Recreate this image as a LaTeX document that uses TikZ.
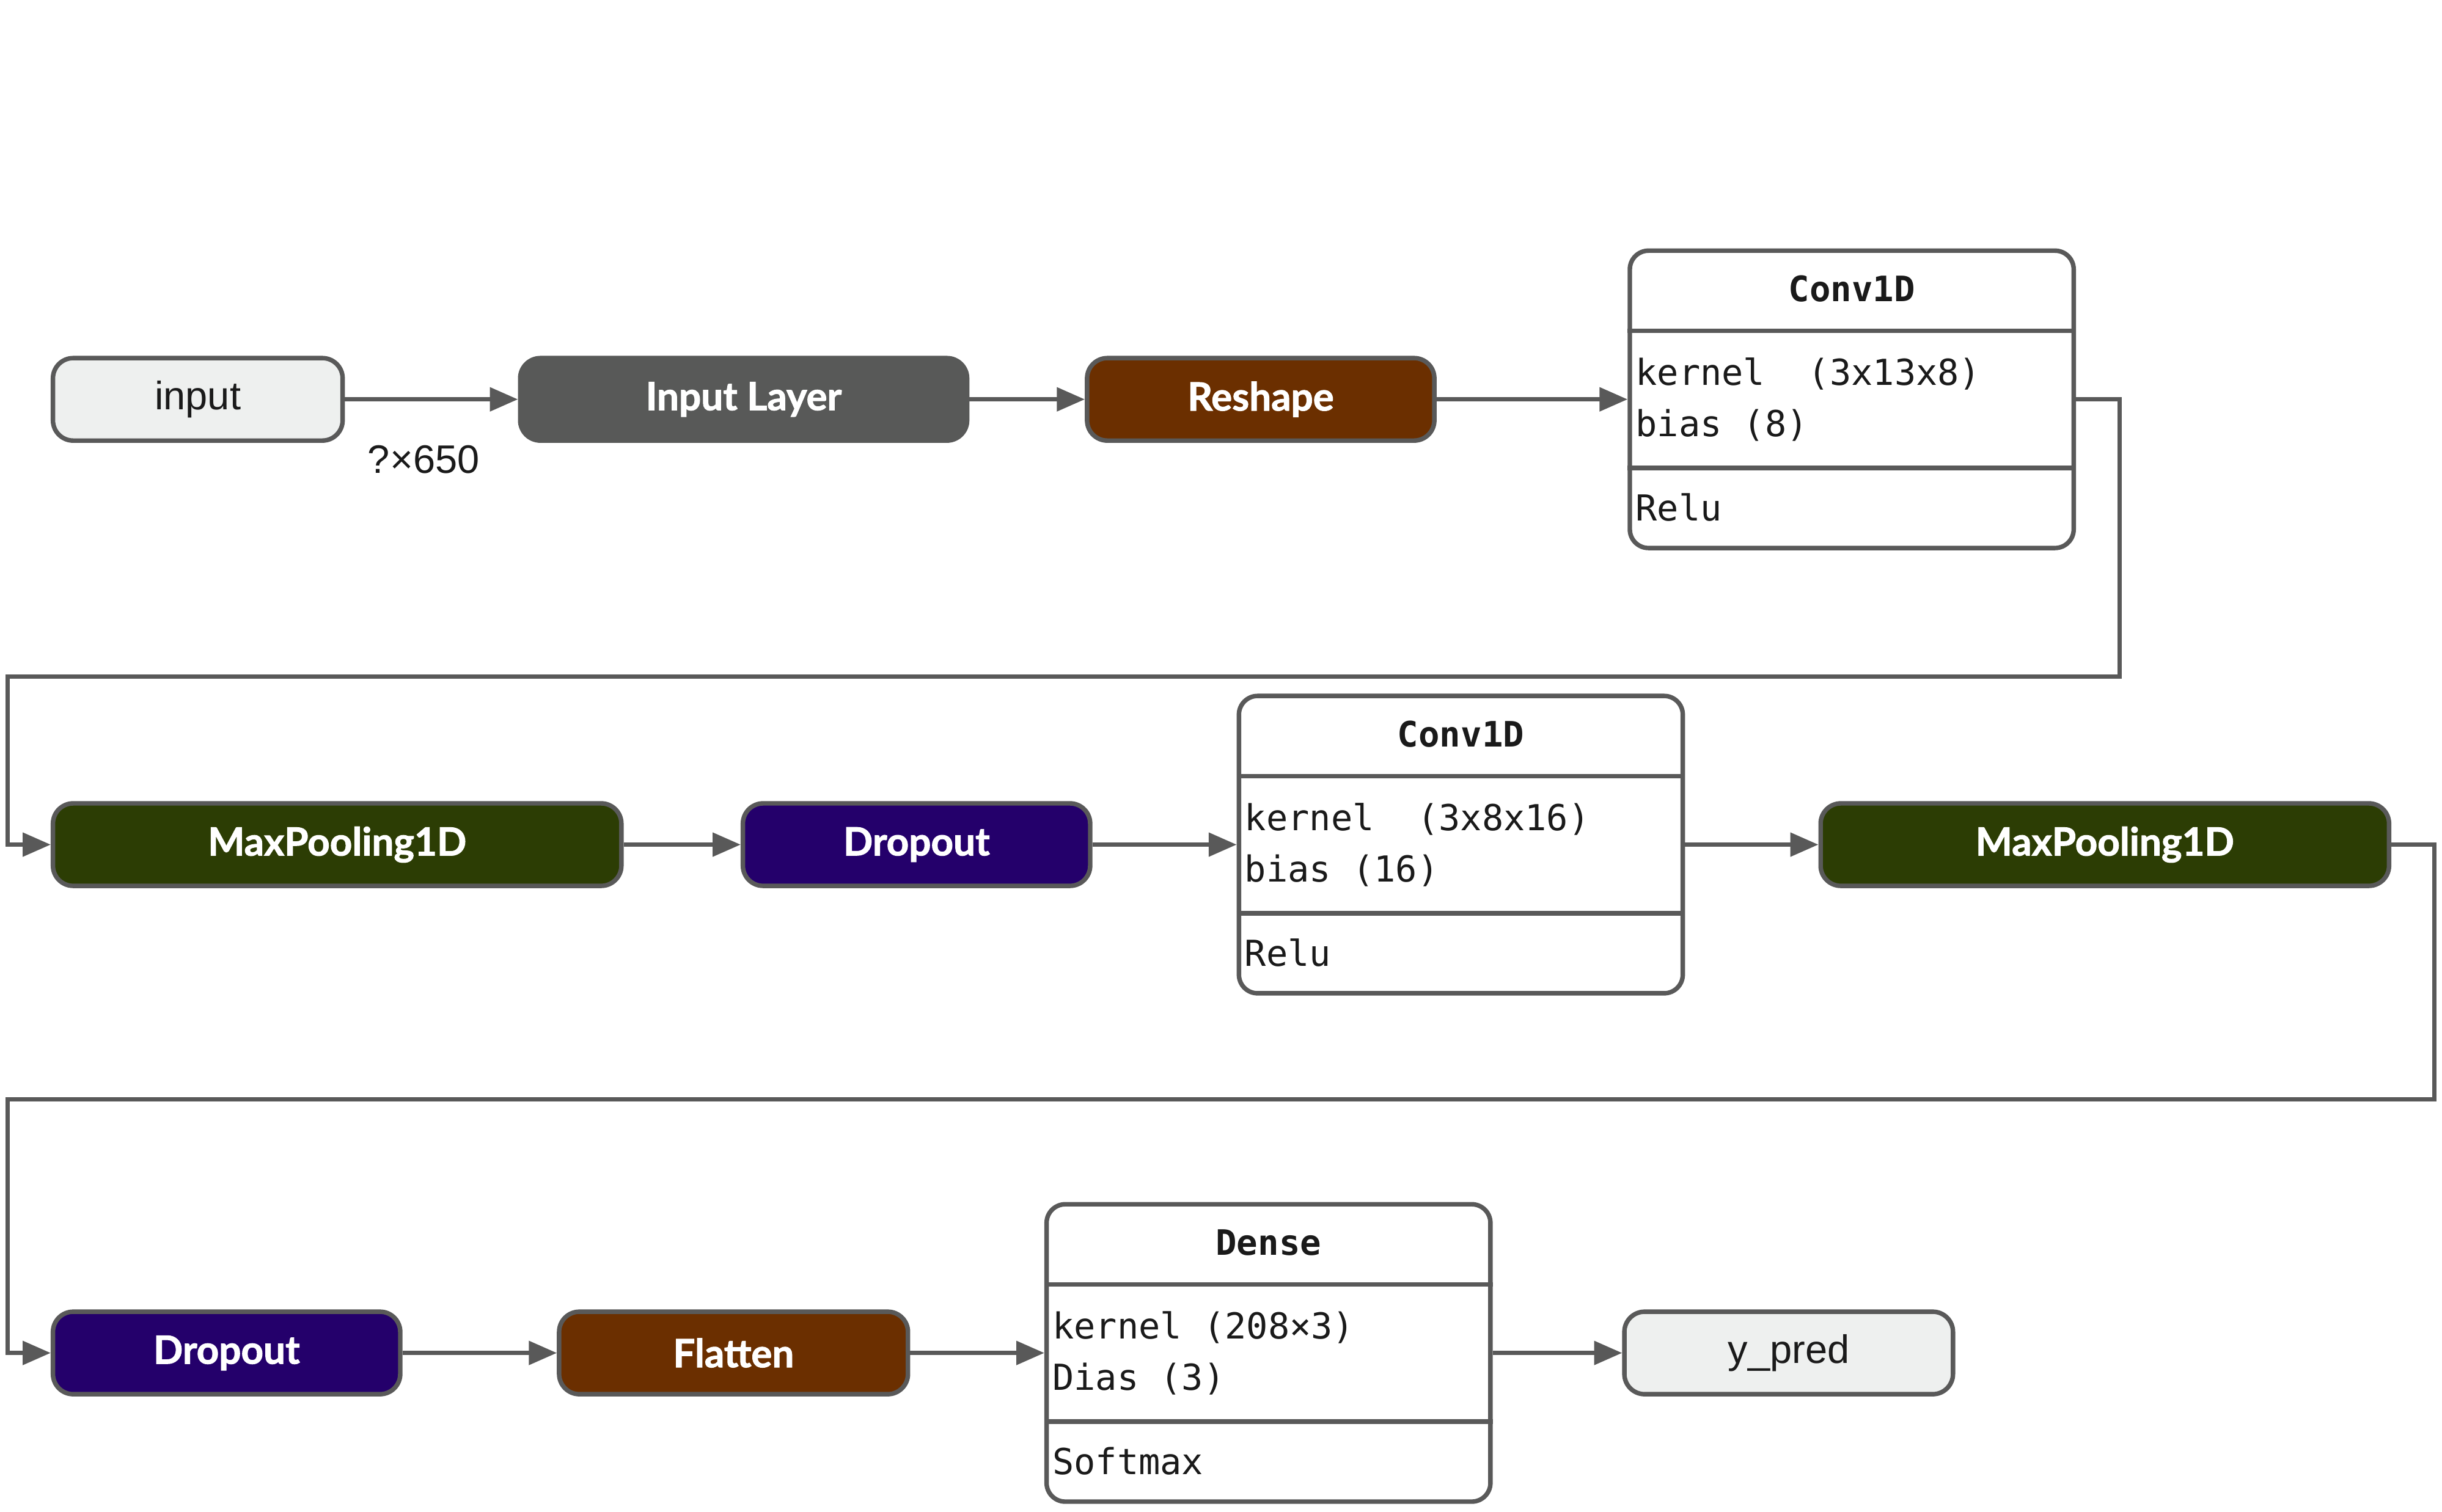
\documentclass[tikz,border=0pt]{standalone}
\usepackage{fontspec}
\setmainfont{Liberation Sans}
\newfontfamily\labfont{Lato}[BoldFeatures={FakeBold=1.6}]
\newfontfamily\monofont{DejaVu Sans Mono}
\usetikzlibrary{arrows.meta}
\definecolor{lineg}{HTML}{595959}
\definecolor{lightg}{HTML}{EEF0EF}
\definecolor{darkg}{HTML}{585958}
\definecolor{brownc}{HTML}{6B2F00}
\definecolor{greenc}{HTML}{2C3D04}
\definecolor{indigoc}{HTML}{24006B}
\definecolor{txt}{HTML}{1A1A1A}
\begin{document}
\begin{tikzpicture}[x=1pt,y=-1pt,
  edge/.style={draw=lineg, line width=2.7pt, -{Triangle[length=18pt,width=15pt]}},
  plain/.style={draw=lineg, line width=2.9pt},
  pill/.style={rectangle, rounded corners=13pt, draw=lineg, line width=2.9pt,
    minimum height=53pt, inner sep=0pt, text=white,
    font=\labfont\bfseries\fontsize{25}{30}\selectfont},
  light/.style={pill, fill=lightg, text=txt, font=\fontsize{25.5}{30}\selectfont},
  umlbox/.style={rectangle, rounded corners=12pt, draw=lineg, line width=2.9pt,
    fill=white, minimum width=285pt, minimum height=191pt, inner sep=0pt},
  utitle/.style={inner sep=0pt, text=txt, font=\monofont\bfseries\fontsize{22.5}{26}\selectfont},
  ubody/.style={inner sep=0pt, anchor=base west, text=txt, font=\monofont\fontsize{23}{28}\selectfont},
  dimlab/.style={inner sep=0pt, text=txt, font=\fontsize{25.5}{30}\selectfont}
]
\useasboundingbox (0,0) rectangle (1568,971);
\fill[white] (0,0) rectangle (1568,971);

% Row 1
\node[light, minimum width=186pt] (in) at (127,256.5) {input};
\node[pill, fill=darkg, draw=darkg, minimum width=287pt] (inl) at (477.5,256.5) {Input Layer};
\node[pill, fill=brownc, minimum width=223pt] (resh) at (809.5,256.5) {Reshape};
\node[umlbox] (conv1) at (1189,256.5) {};
\node[dimlab] (dim) at (272,295) {?×650};

% Row 2
\node[pill, fill=greenc, minimum width=365pt] (mp1) at (216.5,542.5) {MaxPooling1D};
\node[pill, fill=indigoc, minimum width=223pt] (do1) at (588.5,542.5) {Dropout};
\node[umlbox] (conv2) at (938,542.5) {};
\node[pill, fill=greenc, minimum width=365pt] (mp2) at (1351.5,542.5) {MaxPooling1D};

% Row 3
\node[pill, fill=indigoc, minimum width=223pt] (do2) at (145.5,869) {Dropout};
\node[pill, fill=brownc, minimum width=224pt] (fl) at (471,869) {Flatten};
\node[umlbox] (dense) at (814.5,869) {};
\node[light, minimum width=211pt] (yp) at (1148.5,869) {y\_pred};

% UML box contents
\foreach \b in {conv1,conv2,dense}{
  \draw[plain] ([yshift=-53pt]\b.north west) -- ([yshift=-53pt]\b.north east);
  \draw[plain] ([yshift=-141pt]\b.north west) -- ([yshift=-141pt]\b.north east);
}
\node[utitle] (c1t) at ([yshift=-26pt]conv1.north) {Conv1D};
\node[ubody] (c1k) at ([xshift=5pt,yshift=-88pt]conv1.north west) {kernel\ \ (3x13x8)};
\node[ubody] (c1b) at ([xshift=5pt,yshift=-121pt]conv1.north west) {bias (8)};
\node[ubody] (c1r) at ([xshift=5pt,yshift=-175pt]conv1.north west) {Relu};

\node[utitle] (c2t) at ([yshift=-26pt]conv2.north) {Conv1D};
\node[ubody] (c2k) at ([xshift=5pt,yshift=-88pt]conv2.north west) {kernel\ \ (3x8x16)};
\node[ubody] (c2b) at ([xshift=5pt,yshift=-121pt]conv2.north west) {bias (16)};
\node[ubody] (c2r) at ([xshift=5pt,yshift=-175pt]conv2.north west) {Relu};

\node[utitle] (dt) at ([yshift=-26pt]dense.north) {Dense};
\node[ubody] (dk) at ([xshift=5pt,yshift=-88pt]dense.north west) {kernel (208×3)};
\node[ubody] (db) at ([xshift=5pt,yshift=-121pt]dense.north west) {Dias (3)};
\node[ubody] (dr) at ([xshift=5pt,yshift=-175pt]dense.north west) {Softmax};

% bend points
\coordinate (t1) at (1361,434.5);
\coordinate (b1) at (5,434.5);
\coordinate (t2) at (1563,706);
\coordinate (b2) at (5,706);

% Connectors
\draw[edge] (in.east) -- (inl.west);
\draw[edge] (inl.east) -- (resh.west);
\draw[edge] (resh.east) -- (conv1.west);
\draw[edge] (conv1.east) -| (t1) -- (b1) |- (mp1.west);
\draw[edge] (mp1.east) -- (do1.west);
\draw[edge] (do1.east) -- (conv2.west);
\draw[edge] (conv2.east) -- (mp2.west);
\draw[edge] (mp2.east) -| (t2) -- (b2) |- (do2.west);
\draw[edge] (do2.east) -- (fl.west);
\draw[edge] (fl.east) -- (dense.west);
\draw[edge] (dense.east) -- (yp.west);
\end{tikzpicture}
\end{document}
